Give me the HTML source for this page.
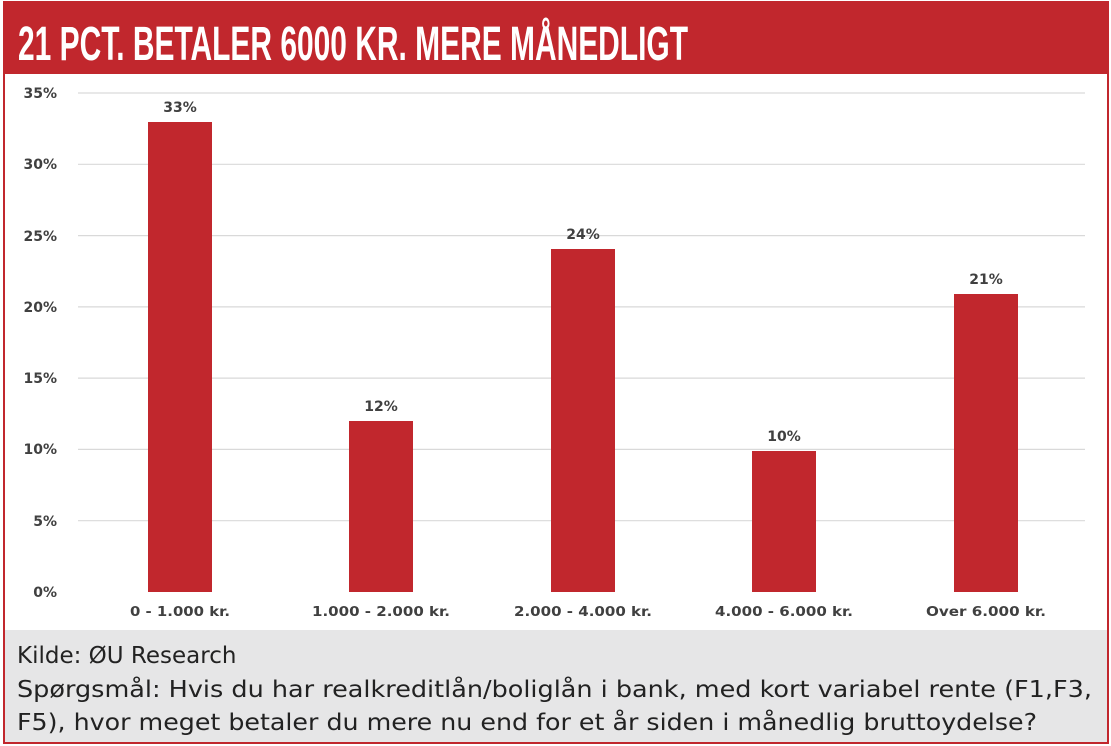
<!DOCTYPE html>
<html><head><meta charset="utf-8"><style>
body{margin:0;width:1111px;height:746px;background:#fff;overflow:hidden;font-family:"Liberation Sans",sans-serif}
</style></head><body>
<svg width="1111" height="746" xmlns="http://www.w3.org/2000/svg" style="position:absolute;left:0;top:0">
<rect x="4" y="2" width="1104" height="741" fill="#fff" stroke="#c1272d" stroke-width="2"/>
<rect x="3" y="2" width="1106" height="72" fill="#c1272d"/>
<text x="18" y="60" font-family="Liberation Sans Narrow, Liberation Sans, sans-serif" font-weight="bold" font-size="48" fill="#fff" textLength="670" lengthAdjust="spacingAndGlyphs">21 PCT. BETALER 6000 KR. MERE MÅNEDLIGT</text>
<g stroke="#d9d9d9" stroke-width="1.2">
<line x1="78" x2="1085" y1="93" y2="93"/><line x1="78" x2="1085" y1="164.3" y2="164.3"/>
<line x1="78" x2="1085" y1="235.6" y2="235.6"/><line x1="78" x2="1085" y1="306.9" y2="306.9"/>
<line x1="78" x2="1085" y1="378.1" y2="378.1"/><line x1="78" x2="1085" y1="449.4" y2="449.4"/>
<line x1="78" x2="1085" y1="520.7" y2="520.7"/>
</g>
<g font-family="DejaVu Sans, sans-serif" font-size="14" font-weight="bold" fill="#404040" text-anchor="end">
<text x="57" y="98">35%</text><text x="57" y="169">30%</text><text x="57" y="241">25%</text>
<text x="57" y="312">20%</text><text x="57" y="383">15%</text><text x="57" y="454">10%</text>
<text x="57" y="526">5%</text><text x="57" y="597">0%</text>
</g>
<g fill="#c1272d">
<rect x="148" y="122" width="64" height="470"/>
<rect x="349" y="421" width="64" height="171"/>
<rect x="551" y="249" width="64" height="343"/>
<rect x="752" y="451" width="64" height="141"/>
<rect x="954" y="294" width="64" height="298"/>
</g>
<g font-family="DejaVu Sans, sans-serif" font-size="14" font-weight="bold" fill="#404040" text-anchor="middle">
<text x="180" y="112">33%</text><text x="381" y="411">12%</text><text x="583" y="239">24%</text>
<text x="784" y="441">10%</text><text x="986" y="284">21%</text>
</g>
<g font-family="DejaVu Sans, sans-serif" font-size="13" font-weight="bold" fill="#404040" text-anchor="middle" lengthAdjust="spacingAndGlyphs">
<text x="180" y="616" textLength="100" lengthAdjust="spacingAndGlyphs">0 - 1.000 kr.</text>
<text x="381" y="616" textLength="138" lengthAdjust="spacingAndGlyphs">1.000 - 2.000 kr.</text>
<text x="583" y="616" textLength="138" lengthAdjust="spacingAndGlyphs">2.000 - 4.000 kr.</text>
<text x="784" y="616" textLength="138" lengthAdjust="spacingAndGlyphs">4.000 - 6.000 kr.</text>
<text x="986" y="616" textLength="120" lengthAdjust="spacingAndGlyphs">Over 6.000 kr.</text>
</g>
<rect x="5" y="630" width="1102" height="112" fill="#e6e6e7"/>
<g font-family="DejaVu Sans, sans-serif" font-size="23" fill="#222">
<text x="17" y="663">Kilde: ØU Research</text>
<text x="17" y="697" textLength="1075" lengthAdjust="spacingAndGlyphs">Spørgsmål: Hvis du har realkreditlån/boliglån i bank, med kort variabel rente (F1,F3,</text>
<text x="17" y="730" textLength="1020" lengthAdjust="spacingAndGlyphs">F5), hvor meget betaler du mere nu end for et år siden i månedlig bruttoydelse?</text>
</g>
</svg>
</body></html>
